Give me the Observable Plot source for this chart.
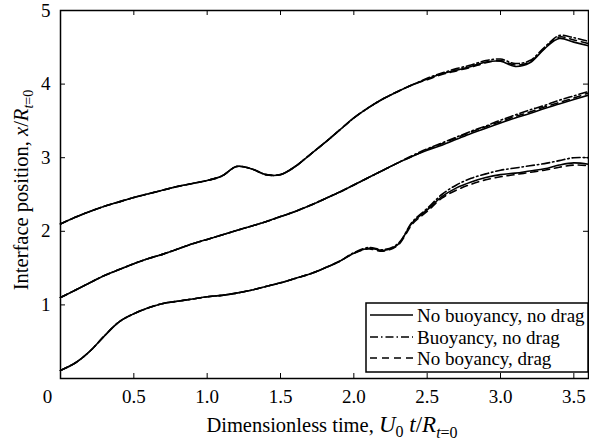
<!DOCTYPE html>
<html><head><meta charset="utf-8">
<script src="https://cdn.jsdelivr.net/npm/d3@7"></script>
<script src="https://cdn.jsdelivr.net/npm/@observablehq/plot@0.6"></script>
<style>
body{margin:0;background:#fff}
</style>
</head><body><div id="chart"></div>
<script>
// Dimensionless time samples
const time = [0,0.1,0.2,0.3,0.4,0.5,0.6,0.7,0.8,0.9,1.0,1.1,1.2,1.3,1.4,1.5,1.6,1.7,1.8,1.9,2.0,2.1,2.2,2.3,2.4,2.5,2.6,2.7,2.8,2.9,3.0,3.1,3.2,3.3,3.4,3.5,3.6];

// Upper interface
const upperNoBuoyNoDrag = [2.10,2.19,2.27,2.34,2.40,2.46,2.51,2.56,2.61,2.65,2.69,2.75,2.88,2.85,2.77,2.77,2.88,3.04,3.20,3.37,3.54,3.68,3.80,3.90,3.99,4.07,4.14,4.19,4.24,4.30,4.31,4.24,4.29,4.48,4.62,4.57,4.52];
const upperBuoyNoDrag   = [2.10,2.19,2.27,2.34,2.40,2.46,2.51,2.56,2.61,2.65,2.69,2.75,2.88,2.85,2.77,2.77,2.88,3.04,3.20,3.37,3.54,3.68,3.80,3.90,3.99,4.08,4.15,4.21,4.26,4.32,4.34,4.28,4.32,4.50,4.66,4.63,4.58];
const upperNoBuoyDrag   = [2.10,2.19,2.27,2.34,2.40,2.46,2.51,2.56,2.61,2.65,2.69,2.75,2.88,2.85,2.77,2.77,2.88,3.04,3.20,3.37,3.54,3.68,3.80,3.90,3.99,4.06,4.13,4.18,4.23,4.29,4.32,4.26,4.30,4.49,4.64,4.60,4.55];

// Middle interface
const middleNoBuoyNoDrag = [1.10,1.20,1.30,1.40,1.48,1.56,1.63,1.69,1.76,1.83,1.89,1.95,2.01,2.07,2.13,2.20,2.27,2.35,2.44,2.53,2.63,2.73,2.83,2.93,3.02,3.10,3.17,3.25,3.33,3.40,3.47,3.54,3.60,3.67,3.73,3.79,3.85];
const middleBuoyNoDrag   = [1.10,1.20,1.30,1.40,1.48,1.56,1.63,1.69,1.76,1.83,1.89,1.95,2.01,2.07,2.13,2.20,2.27,2.35,2.44,2.53,2.63,2.73,2.83,2.93,3.03,3.12,3.20,3.28,3.36,3.43,3.51,3.58,3.65,3.71,3.78,3.84,3.90];
const middleNoBuoyDrag   = [1.10,1.20,1.30,1.40,1.48,1.56,1.63,1.69,1.76,1.83,1.89,1.95,2.01,2.07,2.13,2.20,2.27,2.35,2.44,2.53,2.63,2.73,2.83,2.93,3.02,3.11,3.19,3.27,3.35,3.42,3.49,3.56,3.62,3.69,3.75,3.81,3.88];

// Lower interface
const lowerNoBuoyNoDrag = [0.11,0.21,0.37,0.58,0.77,0.88,0.96,1.02,1.05,1.08,1.11,1.13,1.16,1.20,1.25,1.30,1.36,1.42,1.50,1.59,1.70,1.77,1.74,1.82,2.12,2.29,2.47,2.59,2.67,2.73,2.77,2.79,2.82,2.85,2.90,2.93,2.91];
const lowerBuoyNoDrag   = [0.11,0.21,0.37,0.58,0.77,0.88,0.96,1.02,1.05,1.08,1.11,1.13,1.16,1.20,1.25,1.30,1.36,1.42,1.50,1.59,1.71,1.78,1.75,1.83,2.13,2.31,2.50,2.63,2.72,2.78,2.83,2.86,2.89,2.92,2.96,3.00,3.00];
const lowerNoBuoyDrag   = [0.11,0.21,0.37,0.58,0.77,0.88,0.96,1.02,1.05,1.08,1.11,1.13,1.16,1.20,1.25,1.30,1.36,1.42,1.50,1.59,1.70,1.76,1.73,1.81,2.10,2.27,2.45,2.56,2.64,2.70,2.74,2.77,2.80,2.83,2.87,2.90,2.89];

const legendLabels = ["No buoyancy, no drag","Buoyancy, no drag","No boyancy, drag"];
const styleKeys = ["solid","dashdot","dashed"];
const xTickValues = [0,0.5,1.0,1.5,2.0,2.5,3.0,3.5];
const xTickLabels = ["0.5","1.0","1.5","2.0","2.5","3.0","3.5"];
const yTickValues = [0,1,2,3,4,5];
const yTickLabels = ["1","2","3","4","5"];

const series = [
  {group:"upper", style:"solid", values: upperNoBuoyNoDrag},
  {group:"upper", style:"dashdot", values: upperBuoyNoDrag},
  {group:"upper", style:"dashed", values: upperNoBuoyDrag},
  {group:"middle", style:"solid", values: middleNoBuoyNoDrag},
  {group:"middle", style:"dashdot", values: middleBuoyNoDrag},
  {group:"middle", style:"dashed", values: middleNoBuoyDrag},
  {group:"lower", style:"solid", values: lowerNoBuoyNoDrag},
  {group:"lower", style:"dashdot", values: lowerBuoyNoDrag},
  {group:"lower", style:"dashed", values: lowerNoBuoyDrag}
];
const rows = [];
series.forEach(s => s.values.forEach((v, i) => rows.push({t: time[i], v, id: s.group + "-" + s.style, style: s.style})));

const dashes = {solid: null, dashdot: "8,3,1.5,3", dashed: "7,5"};
const FONT = "'Liberation Serif', 'Times New Roman', serif";

const W = 589, H = 441, mL = 60, mR = 1, mT = 10, mB = 63;
const plotW = W - mL - mR, plotH = H - mT - mB;

const chart = Plot.plot({
  width: W, height: H,
  marginLeft: mL, marginRight: mR, marginTop: mT, marginBottom: mB,
  style: {fontFamily: FONT, fontSize: "19px", background: "white", color: "black", overflow: "visible"},
  x: {domain: [0, 3.6]},
  y: {domain: [0, 5]},
  marks: [
    ...styleKeys.map(st => Plot.line(rows.filter(r => r.style === st), {
      x: "t", y: "v", z: "id", stroke: "black", strokeWidth: 1.6,
      strokeDasharray: dashes[st], curve: "catmull-rom"
    })),
    Plot.ruleX(xTickValues, {x: d => d, insetTop: plotH - 5, stroke: "black", strokeWidth: 1}),
    Plot.ruleX(xTickValues, {x: d => d, insetBottom: plotH - 5, stroke: "black", strokeWidth: 1}),
    Plot.ruleY(yTickValues, {y: d => d, insetRight: plotW - 5, stroke: "black", strokeWidth: 1}),
    Plot.ruleY(yTickValues, {y: d => d, insetLeft: plotW - 5, stroke: "black", strokeWidth: 1}),
    Plot.axisX(xTickValues.slice(1), {tickSize: 0, tickPadding: 11, tickFormat: (d, i) => xTickLabels[i], label: null, fontSize: 19}),
    Plot.axisX([0], {tickSize: 0, tickPadding: 11, dx: -13, tickFormat: () => "0", label: null, fontSize: 19}),
    Plot.axisY(yTickValues.slice(1), {tickSize: 0, tickPadding: 10, tickFormat: (d, i) => yTickLabels[i], label: null, fontSize: 19}),
    Plot.frame({stroke: "black", strokeWidth: 1.5})
  ]
});

const svg = d3.select(chart);

// x-axis label
const xl = svg.append("text").attr("x", 332).attr("y", 432).attr("text-anchor", "middle")
  .attr("font-size", 20.5).attr("fill", "black");
xl.append("tspan").text("Dimensionless time, ");
xl.append("tspan").attr("font-style", "italic").attr("font-size", 23).text("U");
xl.append("tspan").attr("font-size", 16).attr("dy", 5).text("0");
xl.append("tspan").attr("dy", -5).attr("font-size", 23).text(" ");
xl.append("tspan").attr("font-style", "italic").attr("font-size", 23).text("t");
xl.append("tspan").attr("font-size", 23).text("/");
xl.append("tspan").attr("font-style", "italic").attr("font-size", 23).text("R");
xl.append("tspan").attr("font-size", 16).attr("font-style", "italic").attr("dy", 6).text("t");
xl.append("tspan").attr("font-size", 16).text("=0");

// y-axis label
const yl = svg.append("text").attr("transform", "translate(28,190) rotate(-90)").attr("text-anchor", "middle")
  .attr("font-size", 20.5).attr("fill", "black");
yl.append("tspan").text("Interface position, ");
yl.append("tspan").attr("font-style", "italic").text("x");
yl.append("tspan").text("/");
yl.append("tspan").attr("font-style", "italic").text("R");
yl.append("tspan").attr("font-size", 14).attr("font-style", "italic").attr("dy", 5).text("t");
yl.append("tspan").attr("font-size", 14).text("=0");

// legend
const lg = svg.append("g").attr("text-anchor", "start");
lg.append("rect").attr("x", 366).attr("y", 303).attr("width", 222).attr("height", 69)
  .attr("fill", "white").attr("stroke", "black").attr("stroke-width", 1.5);
const rowY = [315, 337, 358];
styleKeys.forEach((st, i) => {
  lg.append("line").attr("x1", 370).attr("x2", 413).attr("y1", rowY[i]).attr("y2", rowY[i])
    .attr("stroke", "black").attr("stroke-width", 1.6).attr("stroke-dasharray", dashes[st]);
  lg.append("text").attr("x", 417).attr("y", rowY[i] + 6.5).attr("text-anchor", "start")
    .attr("font-size", 19).attr("fill", "black").text(legendLabels[i]);
});

svg.style("font-family", FONT);
svg.selectAll("text").style("font-family", FONT);

document.getElementById("chart").append(chart);
</script>
</body></html>
